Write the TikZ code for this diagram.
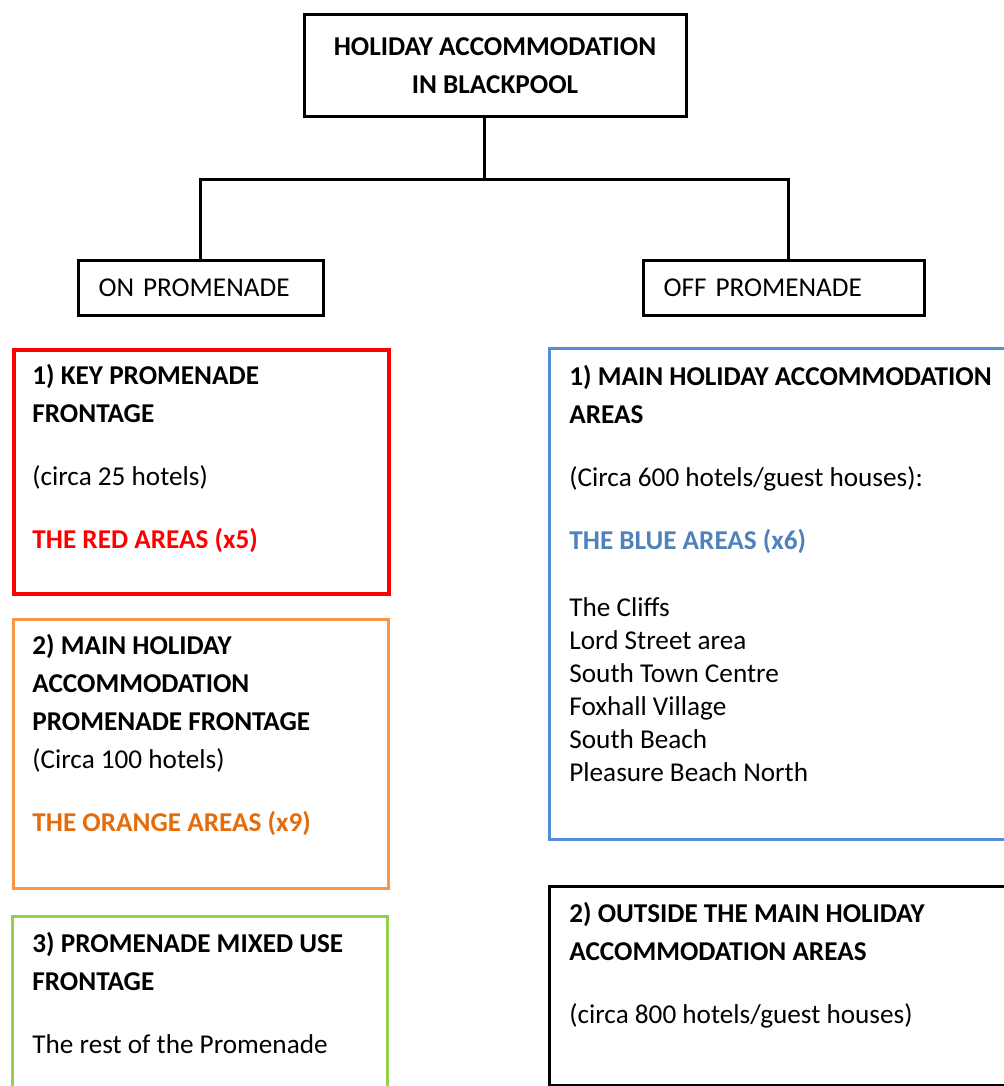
\documentclass[tikz,border=0pt]{standalone}
\usepackage{fontspec}
\setmainfont{Carlito}
\usepackage{tikz}

\definecolor{redline}{HTML}{FF0000}
\definecolor{orangeline}{HTML}{F79646}
\definecolor{orangetext}{HTML}{E46C0A}
\definecolor{blueline}{HTML}{558ED5}
\definecolor{bluetext}{HTML}{4F81BD}
\definecolor{greenline}{HTML}{92D050}

\begin{document}
\begin{tikzpicture}[x=0.5pt,y=-0.5pt,
    txt/.style={font=\fontsize{13.6}{19}\selectfont, align=left, inner sep=0pt, anchor=north west},
    head/.style={draw, line width=1.5pt, font=\fontsize{13.6}{19}\selectfont, anchor=north west,
                 inner xsep=10pt, inner ysep=0pt, align=left, minimum height=27.5pt},
    frame/.style={draw, line width=1.5pt, anchor=north west, inner sep=0pt}]
    \useasboundingbox (0,0) rectangle (1004,1086);

    \node[draw, line width=1.5pt, align=center, font=\fontsize{13.6}{19}\selectfont\bfseries,
          minimum width=191pt, minimum height=51pt] (top) at (495,66)
          {HOLIDAY ACCOMMODATION\\IN BLACKPOOL};
    \node[head, text width=102.5pt] (on) at (77,259) {ON PROMENADE};
    \node[head, text width=120.5pt] (off) at (642,259) {OFF PROMENADE};

    \coordinate (hub) at (484,179);
    \coordinate (lft) at (200,179);
    \coordinate (rgt) at (788,179);
    \draw[line width=1.5pt] (top.south -| hub) -- (hub);
    \draw[line width=1.5pt] (on.north -| lft) -- (lft) -- (rgt) -- (off.north -| rgt);

    % on promenade
    \node[frame, draw=redline, line width=2pt, minimum width=187.5pt, minimum height=122pt] (red) at (12,348) {};
    \node[txt] (redtxt) at (32,357) {\strut\textbf{1) KEY PROMENADE}\\ \textbf{FRONTAGE}\\[12.5pt]
        (circa 25 hotels)\\[12.5pt] \textcolor{redline}{\textbf{THE RED AREAS (x5)}}};

    \node[frame, draw=orangeline, minimum width=187.5pt, minimum height=134.5pt] (orange) at (12,618) {};
    \node[txt] (orangetxt) at (32,627) {\strut\textbf{2) MAIN HOLIDAY}\\ \textbf{ACCOMMODATION}\\
        \textbf{PROMENADE FRONTAGE}\\ (Circa 100 hotels)\\[12.5pt]
        \textcolor{orangetext}{\textbf{THE ORANGE AREAS (x9)}}};

    \draw[greenline, line width=1.5pt] (12,1090) |- (387,916) -- (387,1090);
    \node[txt] (greentxt) at (32,925) {\strut\textbf{3) PROMENADE MIXED USE}\\ \textbf{FRONTAGE}\\[12.5pt]
        The rest of the Promenade};

    % off promenade
    \draw[blueline, line width=1.5pt] (1008,348) -| (549,839) -- (1008,839);
    \node[txt] (bluetxt) at (569,358) {\strut\textbf{1) MAIN HOLIDAY ACCOMMODATION}\\ \textbf{AREAS}\\[12.5pt]
        (Circa 600 hotels/guest houses):\\[12.5pt] \textcolor{bluetext}{\textbf{THE BLUE AREAS (x6)}}\\[14.5pt]
        The Cliffs\\[-2.5pt] Lord Street area\\[-2.5pt] South Town Centre\\[-2.5pt]
        Foxhall Village\\[-2.5pt] South Beach\\[-2.5pt] Pleasure Beach North};

    \draw[line width=1.5pt] (1008,886) -| (549,1085) -- (1008,1085);
    \node[txt] (blacktxt) at (569,895) {\strut\textbf{2) OUTSIDE THE MAIN HOLIDAY}\\
        \textbf{ACCOMMODATION AREAS}\\[12.5pt] (circa 800 hotels/guest houses)};
\end{tikzpicture}
\end{document}
